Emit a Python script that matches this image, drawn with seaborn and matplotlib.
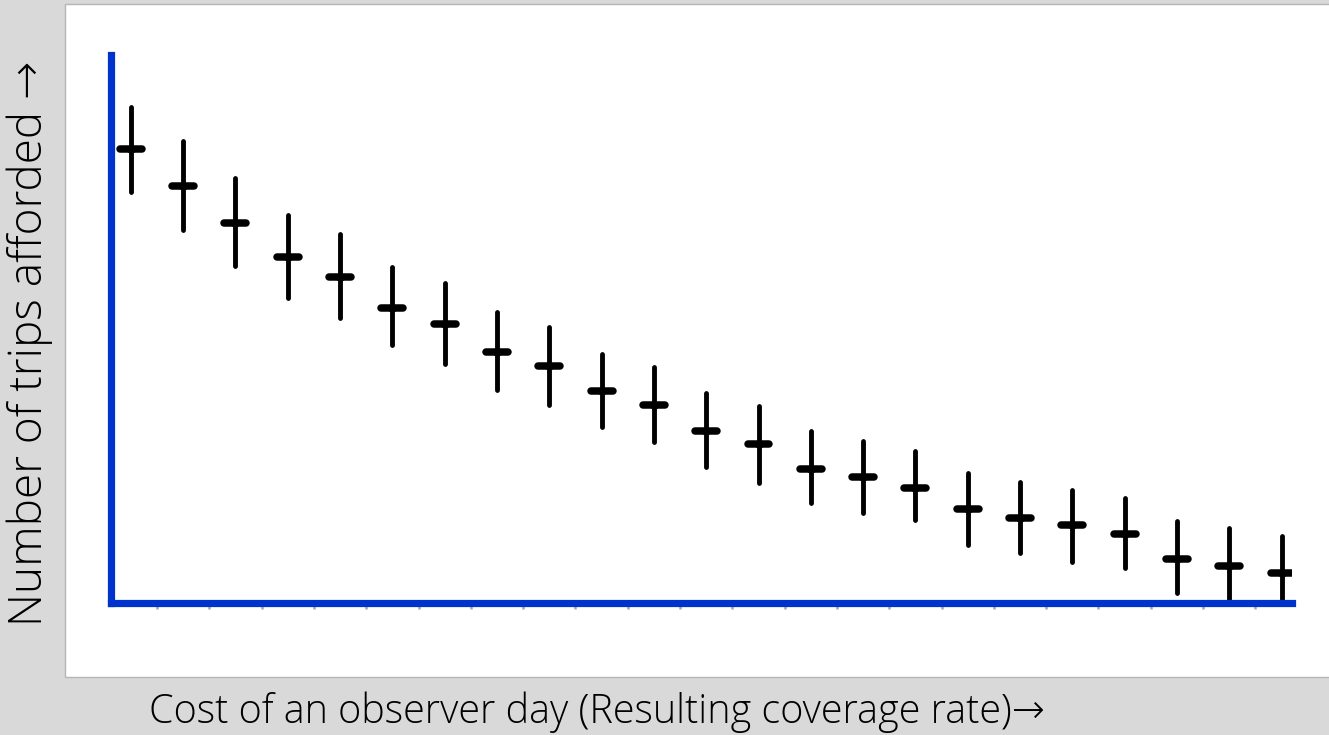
import numpy as np
import pandas as pd
import matplotlib
matplotlib.use("Agg")
import matplotlib.pyplot as plt
from matplotlib.patches import Rectangle
import seaborn as sns

# ---- data (arbitrary units, axis 0..100) ----
cost_levels = list(range(1, 24))
trips_mid = [82.4, 75.7, 69.0, 62.8, 59.2, 53.5, 50.6, 45.6, 43.0, 38.5, 35.9, 31.2,
             28.9, 24.3, 22.9, 20.9, 17.1, 15.4, 14.2, 12.5, 8.0, 6.7, 5.4]
trips_high = [90.0, 83.8, 77.1, 70.4, 67.0, 61.0, 58.1, 52.8, 50.1, 45.2, 42.8, 38.1,
              35.8, 31.2, 29.4, 27.6, 23.6, 22.0, 20.5, 19.1, 14.9, 13.6, 12.2]
trips_low = [74.6, 67.7, 61.2, 55.4, 51.7, 46.8, 43.4, 38.7, 35.9, 31.9, 29.2, 24.7,
             21.8, 18.1, 16.3, 15.1, 10.5, 9.1, 7.4, 6.4, 1.8, 0.0, 0.0]

df = pd.DataFrame({"cost": cost_levels, "mid": trips_mid,
                   "low": trips_low, "high": trips_high})
df["pos"] = np.arange(len(df))

sns.set_style("white")
plt.rcParams["font.family"] = ["Open Sans", "DejaVu Sans"]

W, H = 1329, 735
fig = plt.figure(figsize=(W / 100, H / 100), dpi=100)
fig.patch.set_facecolor("#d9d9d9")

# white slide panel (behind the axes)
fig.patches.append(Rectangle((65 / W, (H - 677) / H), (W - 65 + 5) / W, (677 - 4) / H,
                             transform=fig.transFigure, facecolor="white",
                             edgecolor="#b5b5b5", linewidth=1.0, zorder=-10))

ax = fig.add_axes([111 / W, (H - 603) / H, (1292 - 111) / W, (603 - 55) / H])
ax.set_zorder(1)
ax.set_facecolor("none")

# range whiskers
ax.vlines(df["pos"], df["low"], df["high"], color="black", linewidth=3.5,
          capstyle="round", zorder=3)
# central value crossbars (seaborn scatter of centres + bars drawn around them)
sns.scatterplot(data=df, x="pos", y="mid", marker="s", s=25, color="black",
                edgecolor="black", ax=ax, zorder=4, legend=False)
half = 0.21
ax.hlines(df["mid"], df["pos"] - half, df["pos"] + half, color="black",
          linewidth=5.4, capstyle="round", zorder=4)

ax.set_xlim(-0.38, 22.2)
ax.set_ylim(0, 100 * (603 - 55) / (603 - 52))

for s in ["top", "right"]:
    ax.spines[s].set_visible(False)
for s in ["left", "bottom"]:
    ax.spines[s].set_color("#0033cc")
    ax.spines[s].set_linewidth(5.2)
    ax.spines[s].set_capstyle("projecting")
    ax.spines[s].set_zorder(5)

ax.set_xticks(df["pos"][:-1] + 0.5)
ax.set_xticklabels([])
ax.set_yticks([])
ax.tick_params(axis="x", bottom=True, length=4.0, width=1.8, color="#a8a8a8",
               direction="out", pad=0)
ax.set_xlabel("")
ax.set_ylabel("")

fig.text(597 / W, (H - 712) / H, "Cost of an observer day (Resulting coverage rate)→",
         ha="center", va="center", fontsize=28.5, fontweight="light", color="black")
fig.text(30 / W, (H - 343) / H, "Number of trips afforded →", rotation=90,
         ha="center", va="center", fontsize=33, fontweight="light", color="black")

fig.savefig("out.png", dpi=100, facecolor=fig.get_facecolor())
